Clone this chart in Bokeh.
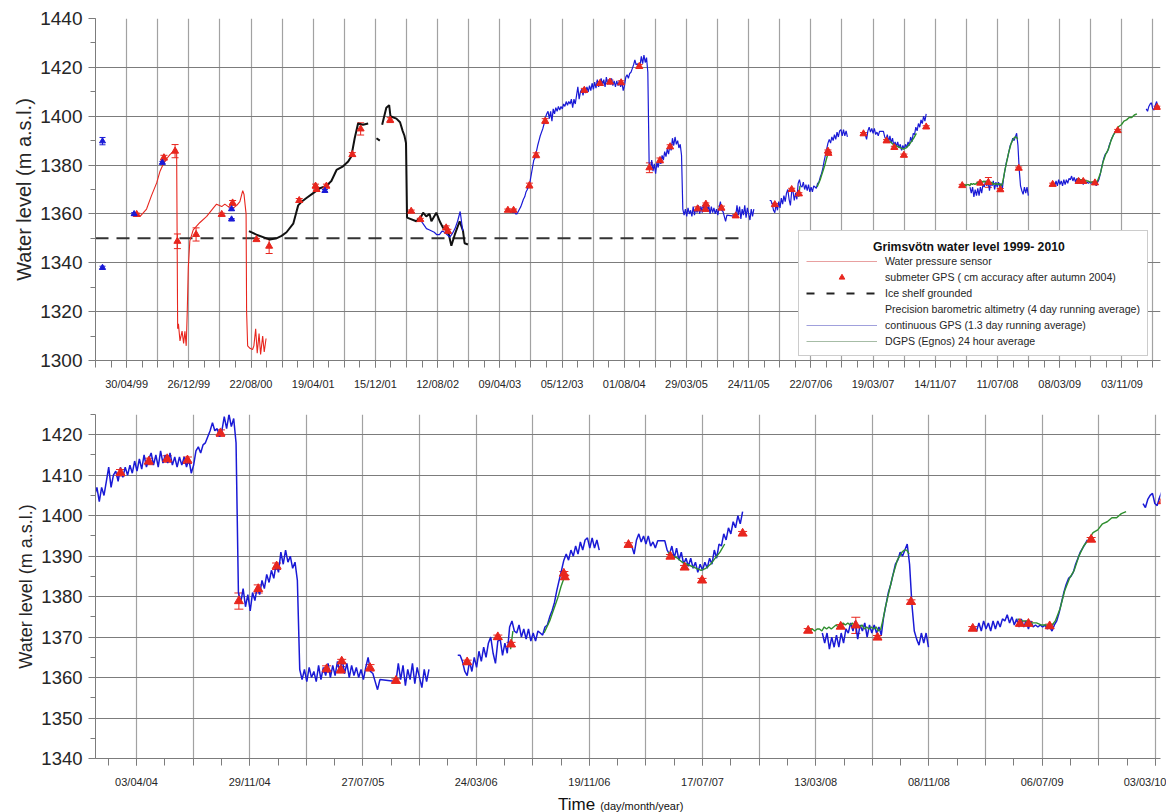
import numpy as np
import pandas as pd
from bokeh.plotting import figure
from bokeh.layouts import column
from bokeh.models import (Range1d, FixedTicker, DatetimeTickFormatter, Legend, LegendItem,
                          Whisker, TeeHead, ColumnDataSource, Div)
from bokeh.embed import file_html
from bokeh.resources import INLINE

FONT = "Liberation Sans"

# ---------------------------------------------------------------- data
# Water pressure sensor 1999-2000
pressure_dates = ["1999-06-08", "1999-06-21", "1999-07-04", "1999-07-16", "1999-08-04", "1999-08-24",
                  "1999-09-06", "1999-09-19", "1999-10-01", "1999-10-14", "1999-10-27", "1999-11-09",
                  "1999-11-13", "1999-11-16", "1999-11-22", "1999-11-30", "1999-12-06", "1999-12-11",
                  "1999-12-16", "1999-12-20", "1999-12-24", "1999-12-30", "2000-01-12", "2000-02-07",
                  "2000-03-04", "2000-03-30", "2000-04-11", "2000-05-01", "2000-05-13", "2000-05-26",
                  "2000-06-15", "2000-06-28", "2000-07-10", "2000-07-21", "2000-07-26", "2000-08-03",
                  "2000-08-05", "2000-08-09", "2000-08-18", "2000-08-28", "2000-09-02", "2000-09-09",
                  "2000-09-15", "2000-09-22", "2000-09-28", "2000-10-06", "2000-10-12", "2000-10-19"]
pressure_level = [1360, 1359, 1360.5, 1362, 1367.5, 1372.7, 1377.5, 1380.5, 1382.5, 1384.3, 1385.5, 1386.5,
                  1313, 1315, 1308, 1312, 1307, 1312, 1306, 1320, 1338, 1349, 1353.5, 1356.5,
                  1359, 1362.5, 1364, 1363, 1364, 1363, 1362.5, 1363.5, 1365, 1369.5, 1368, 1360,
                  1320, 1306, 1305, 1304.5, 1306, 1313, 1303, 1311, 1302.5, 1310, 1303.5, 1309]

# Precision barometric altimetry (three pieces)
baro_dates_1 = ["2000-08-14", "2000-09-12", "2000-10-21", "2000-11-03", "2000-11-28", "2000-12-18",
                "2001-01-06", "2001-02-01", "2001-02-20", "2001-03-05", "2001-03-24", "2001-04-19",
                "2001-05-15", "2001-06-09", "2001-06-28", "2001-07-18", "2001-08-12", "2001-09-01",
                "2001-09-13", "2001-09-26", "2001-10-09", "2001-10-28", "2001-11-17"]
baro_level_1 = [1353, 1351.5, 1350, 1349.5, 1350, 1351, 1352.5, 1356, 1363.5, 1365, 1366.5, 1368.5,
                1370.5, 1371.5, 1373.5, 1378, 1379.5, 1381.5, 1383.5, 1391, 1397, 1396.5, 1397]
baro_dates_2 = ["2001-12-19", "2002-01-01"]
baro_level_2 = [1391, 1390]
baro_dates_3 = ["2002-01-10", "2002-01-26", "2002-02-06", "2002-02-11", "2002-03-06", "2002-03-20",
                "2002-03-30", "2002-04-06", "2002-04-12", "2002-04-16", "2002-05-22", "2002-06-10",
                "2002-06-17", "2002-06-29", "2002-07-12", "2002-07-19", "2002-08-07", "2002-08-20",
                "2002-09-02", "2002-09-21", "2002-10-04", "2002-10-17", "2002-11-05", "2002-11-18",
                "2002-11-24", "2002-12-07"]
baro_level_3 = [1396.5, 1403.5, 1404.5, 1400, 1399, 1397.5, 1394, 1392, 1389, 1358.5, 1357, 1359,
                1360.5, 1359, 1360, 1357, 1360.5, 1357, 1354.3, 1353, 1347, 1351.5, 1357, 1353,
                1348, 1347.5]

# Continuous GPS: (first day, sampling step in days, levels)
cgps_2002 = ("2002-06-10", 10, [1357, 1355.5, 1354, 1353.5, 1353, 1352.5, 1351.5, 1351.5, 1353, 1352.5,
                                1351.5, 1350.5, 1352, 1354, 1357, 1361, 1353])
cgps_2003 = ("2003-05-25", 5, [
    1361, 1360.5, 1361, 1360, 1360, 1361, 1362, 1363, 1364.5, 1366,
    1367, 1369, 1370, 1371.5, 1373, 1376, 1379, 1382, 1383, 1385.5,
    1388, 1390, 1392, 1393.5, 1395, 1397, 1399.5, 1401, 1402, 1399,
    1402, 1398, 1403, 1401, 1403.5, 1402, 1404, 1402.5, 1404, 1403,
    1405, 1404, 1406, 1404.5, 1406,
    1405, 1407, 1403.5, 1407, 1405, 1408.5, 1412, 1407, 1410, 1411,
    1408.5, 1412, 1409.5, 1412, 1410, 1412.5, 1410.5, 1413.5, 1411, 1414,
    1411.5, 1415, 1412, 1414, 1415.5, 1412.5, 1415, 1412, 1416, 1413,
    1415, 1413, 1415.5, 1412.5, 1414.5, 1412, 1414.5, 1412.5, 1414.5, 1412,
    1414, 1410.5, 1412.5, 1416, 1417, 1415.5, 1417.5, 1418, 1419.5, 1421,
    1423, 1421, 1421.5, 1419.5, 1421, 1424.5, 1421.5, 1425, 1422, 1424,
    1418, 1381, 1378.5, 1382, 1377.5, 1380.5, 1376.5, 1381, 1379, 1382.5,
    1380.5, 1384, 1382, 1385.5, 1383.5, 1386.5, 1384.5, 1388, 1386, 1391,
    1388, 1391.5, 1388.5, 1390, 1387, 1388.5, 1384, 1362, 1359.5, 1362,
    1359, 1362.5, 1360, 1361.5, 1359, 1363, 1359.5, 1362.5, 1360.5, 1363.5,
    1360, 1363, 1360.5, 1364, 1361.5, 1364.5, 1361, 1363.5, 1360, 1363,
    1360.5, 1362.5, 1360, 1362, 1359.5, 1362.5, 1365, 1361.5, 1361, 1359,
    1357, 1359.5])
cgps_2005 = ("2005-10-05", 5, [1359, 1363.5, 1359.5, 1363, 1358, 1362, 1359.5, 1363.5, 1358.5, 1362.5,
                               1360, 1357.5, 1362, 1359, 1362])
cgps_2006 = ("2006-02-13", 5, [
    1365.5, 1365.5, 1364, 1361.5, 1360.5, 1364, 1361.5, 1365, 1362.5, 1366.5,
    1364, 1367.5, 1365, 1368.5, 1370, 1366, 1363.5, 1369, 1369.5, 1365.5,
    1368.5, 1366, 1372.5, 1374, 1371.5, 1371, 1373, 1370, 1372, 1369.5,
    1372, 1369, 1371, 1369, 1371.5, 1371, 1370.5, 1372.5, 1373, 1375,
    1376.5, 1378.5, 1381.5, 1384, 1386.5, 1389, 1390.5, 1389, 1391.5, 1390,
    1392.5, 1390.5, 1393.5, 1391.5, 1394, 1394.5, 1392, 1394.5, 1392, 1394,
    1391.5])
cgps_2007 = ("2007-02-12", 5, [
    1393, 1392.5, 1390.5, 1394, 1395.5, 1393.5, 1395, 1393, 1395, 1392.5,
    1393.5, 1392, 1393.8, 1393.8, 1393.8, 1393.8, 1391.5, 1390.5, 1392.5, 1389.5,
    1392, 1389, 1391, 1388, 1389.5, 1387.5, 1389.5, 1387, 1388.5, 1386,
    1388, 1386.5, 1388.5, 1387, 1389.5, 1388, 1391.5, 1389.5, 1393, 1392.5,
    1395.5, 1394, 1397, 1395.5, 1398.5, 1397, 1400, 1398, 1401])
cgps_2008 = ("2008-03-27", 5, [
    1371, 1368.5, 1371, 1367, 1370, 1367.5, 1370.5, 1367.5, 1371, 1368.5,
    1372, 1371, 1373.5, 1371.5, 1374, 1369.5, 1373, 1371.5, 1373.5, 1370,
    1373, 1371, 1373, 1371, 1372.5, 1370.5, 1375, 1378, 1381, 1383,
    1385.5, 1388, 1389, 1391, 1390, 1391.5, 1393, 1388, 1378, 1371.5,
    1369.5, 1368, 1371, 1368.5, 1371, 1367.5])
cgps_2009 = ("2009-02-12", 5, [
    1372.5, 1371.5, 1373.5, 1371.5, 1374, 1372, 1373.5, 1371.5, 1374, 1372,
    1374, 1372.5, 1374.5, 1374, 1375.5, 1373.5, 1375, 1373, 1374.5, 1372.5,
    1374.5, 1372.5, 1374, 1372, 1374, 1372.5, 1373, 1372.5, 1373, 1372.5,
    1373, 1372, 1372.5, 1371.5, 1373, 1374, 1376, 1378.5, 1381, 1383,
    1384.5, 1385, 1386, 1388, 1389.5, 1391, 1392, 1393, 1394])
cgps_2010 = ("2010-02-05", 5, [1403, 1402, 1404, 1405, 1405.5, 1403, 1402.5, 1404.5, 1406, 1403.5])

# DGPS (Egnos) 24 hour average
dgps_2006a = ("2006-06-05", 5, [1367, 1371.5])
dgps_2006b = ("2006-08-15", 6, [1371, 1372.5, 1374, 1376, 1378, 1380, 1382.5, 1384.5])
dgps_2007 = ("2007-05-05", 10, [1391, 1390, 1389.5, 1388.5, 1388, 1387.5, 1387, 1386.5, 1387, 1388,
                                1389.5, 1391, 1393])
dgps_2008 = ("2008-02-25", 5, [
    1371.5, 1371.5, 1372, 1371.5, 1372, 1372, 1371.5, 1372.5, 1372, 1372.5,
    1372, 1372.5, 1373, 1372.5, 1373, 1373.5, 1373, 1373.5, 1373, 1373.5,
    1372.5, 1373, 1372.5, 1373, 1372, 1372.5, 1372, 1372.5, 1372, 1372.5,
    1371.5, 1372, 1374.5, 1377.5, 1380, 1382.5, 1385, 1387, 1389, 1390,
    1391, 1391.5, 1391.5, 1390.5])
dgps_2009 = ("2009-05-15", 10, [1374.5, 1374, 1374, 1373.5, 1373.5, 1373, 1373, 1372.5, 1374, 1377,
                                1381.5, 1384.5, 1386.5, 1390, 1392.5, 1394, 1395.8, 1396.5, 1398, 1398.5,
                                1399.5, 1399.5, 1400.5, 1401])

# Submeter GPS survey points with their uncertainty (m)
gps_dates = ["1999-06-08", "1999-09-21", "1999-11-03", "1999-11-12", "2000-01-23", "2000-05-01",
             "2000-06-12", "2000-09-12", "2000-10-31", "2001-02-24", "2001-04-28", "2001-05-02",
             "2001-06-09", "2001-09-17", "2001-10-19", "2002-02-10", "2002-05-02", "2002-06-06",
             "2002-09-14", "2002-09-21", "2003-05-10", "2003-06-01", "2003-08-01", "2003-08-27",
             "2003-10-01", "2004-02-29", "2004-04-29", "2004-06-07", "2004-07-20", "2004-09-28",
             "2004-11-06", "2004-12-17", "2005-01-25", "2005-05-11", "2005-06-10", "2005-06-12",
             "2005-08-11", "2005-10-05", "2006-03-05", "2006-05-09", "2006-06-06", "2006-09-26",
             "2006-09-28", "2007-02-10", "2007-05-10", "2007-06-09", "2007-07-16", "2007-10-10",
             "2008-02-26", "2008-05-05", "2008-06-06", "2008-07-22", "2008-10-01", "2009-02-09",
             "2009-05-20", "2009-06-07", "2009-07-22", "2009-10-18", "2010-03-19"]
gps_level = [1359.8, 1383.0, 1385.7, 1348.8, 1351.6, 1359.8,
             1364.5, 1349.5, 1346.8, 1365.5, 1371.4, 1370.0,
             1371.4, 1384.3, 1394.8, 1398.4, 1361.1, 1357.7,
             1354.3, 1352.9, 1361.5, 1361.5, 1371.6, 1384.0,
             1398.0, 1410.6, 1413.4, 1414.0, 1413.7, 1420.4,
             1378.9, 1381.9, 1387.5, 1362.1, 1361.9, 1364.0,
             1362.4, 1359.2, 1363.8, 1370.0, 1368.2, 1385.7,
             1384.8, 1392.8, 1389.9, 1387.2, 1384.0, 1395.6,
             1371.6, 1372.6, 1372.9, 1369.9, 1378.7, 1372.1,
             1373.3, 1373.3, 1372.7, 1394.1, 1403.6]
gps_error = [0.5, 1.0, 2.7, 3.0, 2.7, 0.5,
             1.0, 0.5, 3.0, 0.8, 0.8, 0.8,
             0.8, 0.8, 2.5, 1.0, 0.5, 0.5,
             0.8, 0.8, 0.5, 0.5, 1.0, 1.0,
             1.0, 0.8, 0.8, 0.8, 0.8, 0.8,
             2.0, 1.0, 0.8, 0.8, 0.8, 0.5,
             0.8, 0.5, 0.5, 0.5, 0.5, 0.5,
             0.5, 0.5, 0.5, 0.5, 0.5, 0.5,
             0.5, 0.5, 2.0, 0.5, 0.5, 0.5,
             0.5, 0.5, 0.5, 0.5, 0.5]

# Early GPS survey points
early_dates = ["1999-01-27", "1999-01-27", "1999-05-29", "1999-09-15", "2000-06-08", "2000-06-08", "2001-06-03"]
early_level = [1389.8, 1338.0, 1360.0, 1381.0, 1362.0, 1357.8, 1369.5]
early_error = [1.5, 0.6, 0.5, 0.5, 0.5, 0.3, 0.5]

# Ice shelf grounded level
ice_dates = ["1998-12-31", "2005-11-08"]
ice_level = [1350, 1350]

# Axis tick labels
top_label_dates = ["1999-04-30", "1999-12-26", "2000-08-22", "2001-04-19", "2001-12-15", "2002-08-12",
                   "2003-04-09", "2003-12-05", "2004-08-01", "2005-03-29", "2005-11-24", "2006-07-22",
                   "2007-03-19", "2007-11-14", "2008-07-11", "2009-03-08", "2009-11-03"]
bottom_label_dates = ["2004-04-03", "2004-11-29", "2005-07-27", "2006-03-24", "2006-11-19",
                      "2007-07-17", "2008-03-13", "2008-11-08", "2009-07-06", "2010-03-03"]


# ---------------------------------------------------------------- helpers
def to_ms(dates):
    return pd.to_datetime(dates).asi8 / 1e6


def pieces(*parts):
    """Join (dates, levels) pieces into one line broken by NaN gaps."""
    xs, ys = [], []
    for i, (d, v) in enumerate(parts):
        if i:
            xs.append(np.nan)
            ys.append(np.nan)
        xs.extend(to_ms(d))
        ys.extend(v)
    return np.array(xs, dtype=float), np.array(ys, dtype=float)


def sampled(*groups):
    """Each group is a list of regularly sampled segments drawn as one connected run."""
    parts = []
    for group in groups:
        d, v = [], []
        for start, step, levels in group:
            d.extend(pd.date_range(start, periods=len(levels), freq=f"{step}D").strftime("%Y-%m-%d"))
            v.extend(levels)
        parts.append((d, v))
    return pieces(*parts)


press_x, press_y = pieces((pressure_dates, pressure_level))
baro_x, baro_y = pieces((baro_dates_1, baro_level_1), (baro_dates_2, baro_level_2), (baro_dates_3, baro_level_3))
cgps_x, cgps_y = sampled([cgps_2002], [cgps_2003, cgps_2005], [cgps_2006], [cgps_2007],
                         [cgps_2008], [cgps_2009], [cgps_2010])
dgps_x, dgps_y = sampled([dgps_2006a], [dgps_2006b], [dgps_2007], [dgps_2008], [dgps_2009])

gps_src = ColumnDataSource(dict(x=to_ms(gps_dates), y=gps_level,
                                lo=np.array(gps_level) - np.array(gps_error),
                                hi=np.array(gps_level) + np.array(gps_error)))
early_src = ColumnDataSource(dict(x=to_ms(early_dates), y=early_level,
                                  lo=np.array(early_level) - np.array(early_error),
                                  hi=np.array(early_level) + np.array(early_error)))

RED = "#e8261e"
BLUE = "#1a1ad6"
GREEN = "#2f8f2f"
HGRID = "#7c7c7c"
VGRID = "#a2a2a2"
TEXT = "#262626"
DATE_FMT = "%d/%m/%y"


def style(p, label_dates, grid_start, x_end, yticks, yminor, ytick_size, ylab_size, xstandoff):
    p.outline_line_color = None
    p.background_fill_color = "white"
    p.border_fill_color = "white"
    grid_days = pd.date_range(grid_start, x_end, freq="120D")
    minor_days = pd.date_range(grid_start, x_end, freq="60D")
    p.xaxis.ticker = FixedTicker(ticks=list(to_ms(label_dates)), minor_ticks=list(minor_days.asi8 / 1e6))
    p.xaxis.formatter = DatetimeTickFormatter(
        microseconds=DATE_FMT, milliseconds=DATE_FMT, seconds=DATE_FMT, minsec=DATE_FMT,
        minutes=DATE_FMT, hourmin=DATE_FMT, hours=DATE_FMT, days=DATE_FMT, months=DATE_FMT,
        years=DATE_FMT)
    p.xgrid.ticker = FixedTicker(ticks=list(grid_days.asi8 / 1e6))
    p.yaxis.ticker = FixedTicker(ticks=yticks, minor_ticks=yminor)
    p.xgrid.grid_line_color = VGRID
    p.xgrid.grid_line_width = 1.2
    p.ygrid.grid_line_color = HGRID
    p.ygrid.grid_line_width = 1
    for ax in (p.xaxis, p.yaxis):
        ax.axis_line_color = HGRID
        ax.major_tick_line_color = HGRID
        ax.minor_tick_line_color = HGRID
        ax.major_tick_in = 0
        ax.minor_tick_in = 0
        ax.major_label_text_font = FONT
        ax.major_label_text_color = TEXT
        ax.axis_label_text_font = FONT
        ax.axis_label_text_color = TEXT
        ax.axis_label_text_font_style = "normal"
    p.xaxis.major_tick_out = 7
    p.xaxis.minor_tick_out = 7
    p.xaxis.major_label_text_font_size = "11px"
    p.xaxis.major_label_standoff = xstandoff
    p.yaxis.major_tick_out = 7
    p.yaxis.minor_tick_out = 5
    p.yaxis.major_label_text_font_size = ytick_size
    p.yaxis.major_label_standoff = 6
    p.yaxis.axis_label = "Water level (m a.s.l.)"
    p.yaxis.axis_label_text_font_size = ylab_size
    p.yaxis.axis_label_standoff = 2


def draw_series(p, tri_size, gps_width, with_early):
    p.line(press_x, press_y, line_color=RED, line_width=1.1)
    p.line(baro_x, baro_y, line_color="#111111", line_width=2)
    p.line(cgps_x, cgps_y, line_color=BLUE, line_width=gps_width)
    p.line(dgps_x, dgps_y, line_color=GREEN, line_width=1.4)
    p.add_layout(Whisker(source=gps_src, base="x", lower="lo", upper="hi", dimension="height",
                         line_color=RED, line_width=1,
                         lower_head=TeeHead(size=tri_size, line_color=RED, line_width=1),
                         upper_head=TeeHead(size=tri_size, line_color=RED, line_width=1)))
    p.scatter("x", "y", source=gps_src, marker="triangle", size=tri_size, fill_color=RED, line_color=RED)
    if with_early:
        p.add_layout(Whisker(source=early_src, base="x", lower="lo", upper="hi", dimension="height",
                             line_color=BLUE, line_width=1,
                             lower_head=TeeHead(size=6, line_color=BLUE, line_width=1),
                             upper_head=TeeHead(size=6, line_color=BLUE, line_width=1)))
        p.scatter("x", "y", source=early_src, marker="triangle", size=6, fill_color=BLUE, line_color=BLUE)


# ---------------------------------------------------------------- top panel: 1999-2010
top = figure(width=1166, height=398, x_axis_type="datetime",
             x_range=Range1d(to_ms(["1998-12-31"])[0], to_ms(["2010-04-01"])[0]),
             y_range=Range1d(1300, 1440), output_backend="svg", toolbar_location=None,
             min_border_left=92, min_border_right=6, min_border_top=18, min_border_bottom=38)
style(top, top_label_dates, "1998-12-31", "2010-04-01",
      list(range(1300, 1441, 20)), list(range(1300, 1441, 10)), "19px", "20px", 10)

ice_x = to_ms(ice_dates)
top.line(ice_x, ice_level, line_color="#333333", line_width=2, line_dash="13 8")
draw_series(top, 7, 1.2, True)

# legend samples
nan = [np.nan]
leg_blank = top.line(nan, nan, line_alpha=0)
leg_press = top.line(nan, nan, line_color="#e8a0a0", line_width=1)
leg_gps = top.scatter(nan, nan, marker="triangle", size=5, fill_color=RED, line_color=RED)
leg_ice = top.line(nan, nan, line_color="#222222", line_width=2.2, line_dash="8 12")
leg_baro = top.line(nan, nan, line_alpha=0)
leg_cgps = top.line(nan, nan, line_color="#a0a0dc", line_width=1)
leg_dgps = top.line(nan, nan, line_color="#a6bca6", line_width=1)

legend = Legend(items=[
    LegendItem(label="\u00a0", renderers=[leg_blank]),
    LegendItem(label="Water pressure sensor", renderers=[leg_press]),
    LegendItem(label="submeter GPS ( cm accuracy after autumn 2004)", renderers=[leg_gps]),
    LegendItem(label="Ice shelf grounded", renderers=[leg_ice]),
    LegendItem(label="Precision barometric altimetry (4 day running average)", renderers=[leg_baro]),
    LegendItem(label="continuous GPS (1.3 day running average)", renderers=[leg_cgps]),
    LegendItem(label="DGPS (Egnos) 24 hour average", renderers=[leg_dgps]),
], location=(703, 4), orientation="vertical", glyph_width=71, glyph_height=14, spacing=2,
    label_standoff=8, padding=7, margin=0, label_text_font=FONT, label_text_font_size="10.6px",
    label_text_color=TEXT, border_line_color="#9a9a9a", border_line_width=1,
    background_fill_color="white", background_fill_alpha=1)
top.add_layout(legend)

# legend heading, laid over the blank first row
heading = Legend(items=[LegendItem(label="Grimsvötn water level 1999- 2010", renderers=[leg_blank])],
                 location=(777, 106), glyph_width=1, glyph_height=14, label_standoff=0, padding=0,
                 margin=0, label_text_font=FONT, label_text_font_size="12.2px",
                 label_text_font_style="bold", label_text_color="#111111",
                 border_line_color=None, background_fill_alpha=0)
top.add_layout(heading)

# ---------------------------------------------------------------- bottom panel: 2004-2010
bottom = figure(width=1166, height=392, x_axis_type="datetime",
                x_range=Range1d(to_ms(["2004-01-07"])[0], to_ms(["2010-03-14"])[0]),
                y_range=Range1d(1340, 1425), output_backend="svg", toolbar_location=None,
                min_border_left=95, min_border_right=6, min_border_top=16, min_border_bottom=30)
style(bottom, bottom_label_dates, "2003-12-05", "2010-03-14",
      list(range(1340, 1421, 10)), list(range(1340, 1426, 5)), "18.5px", "18px", 10)
draw_series(bottom, 9, 1.5, False)

# ---------------------------------------------------------------- time axis title
time_title = Div(
    text=('<div style="margin-left:553px;white-space:nowrap;font-family:\'Liberation Sans\';color:#111111;'
          'line-height:20px">'
          '<span style="font-size:17px">Time</span>'
          '<span style="font-size:11px;margin-left:5px">(day/month/year)</span></div>'),
    width=1166, height=20)

layout = column(top, bottom, time_title, spacing=0)
open("out.html", "w").write(file_html(layout, INLINE))
